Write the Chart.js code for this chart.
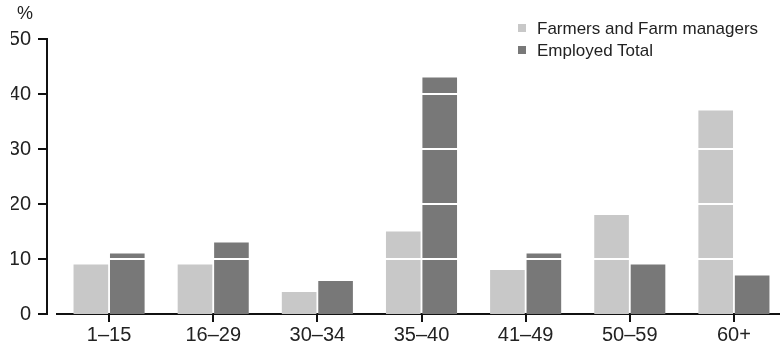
<!DOCTYPE html>
<html>
<head>
<meta charset="utf-8">
<script src="https://cdn.jsdelivr.net/npm/chart.js@4"></script>
<style>
  html, body { margin: 0; padding: 0; background: #fff; overflow: hidden; width: 780px; height: 346px; }
  #wrap { position: absolute; left: 0; top: 0; width: 790px; height: 346px; }
  .unit { position: absolute; left: 17px; top: 3px; font: 18px "Liberation Sans", Arial, sans-serif; color: #222; }
  .legend { position: absolute; left: 518px; top: 18px; font: 17px "Liberation Sans", Arial, sans-serif; color: #222; }
  .legend div { height: 22px; line-height: 22px; white-space: nowrap; }
  .legend span { display: inline-block; width: 8px; height: 8px; margin-right: 11px; vertical-align: 2px; }
</style>
</head>
<body>
<div id="wrap"><canvas id="chart" width="790" height="346"></canvas></div>
<div class="unit">%</div>
<div class="legend">
  <div><span style="background:#c8c8c8"></span>Farmers and Farm managers</div>
  <div><span style="background:#787878"></span>Employed Total</div>
</div>
<script>
const categories = ["1–15", "16–29", "30–34", "35–40", "41–49", "50–59", "60+"];
const farmers = [9, 9, 4, 15, 8, 18, 37];
const employed = [11, 13, 6, 43, 11, 9, 7];
const yTicks = [0, 10, 20, 30, 40, 50];

// white grid lines drawn over the bars, plus the detached y axis line and ticks
const overlay = {
  id: "overlay",
  afterDatasetsDraw(chart) {
    const ctx = chart.ctx;
    const area = chart.chartArea;
    const y = chart.scales.y;
    ctx.save();
    ctx.strokeStyle = "#fff";
    ctx.lineWidth = 2;
    yTicks.forEach(v => {
      if (v === 0 || v === 50) return;
      const py = Math.round(y.getPixelForValue(v));
      ctx.beginPath();
      ctx.moveTo(area.left, py);
      ctx.lineTo(area.right, py);
      ctx.stroke();
    });
    // y axis
    const ax = area.left - 10;
    ctx.strokeStyle = "#111";
    ctx.beginPath();
    ctx.moveTo(ax, y.getPixelForValue(50) - 1);
    ctx.lineTo(ax, y.getPixelForValue(0) + 1);
    ctx.stroke();
    yTicks.forEach(v => {
      const py = Math.round(y.getPixelForValue(v));
      ctx.beginPath();
      ctx.moveTo(ax - 9, py);
      ctx.lineTo(ax, py);
      ctx.stroke();
    });
    ctx.restore();
  }
};

new Chart(document.getElementById("chart"), {
  type: "bar",
  data: {
    labels: categories,
    datasets: [
      { label: "Farmers and Farm managers", data: farmers, backgroundColor: "#c8c8c8" },
      { label: "Employed Total", data: employed, backgroundColor: "#787878" }
    ]
  },
  options: {
    responsive: false,
    animation: false,
    categoryPercentage: 0.7,
    barPercentage: 0.95,
    layout: { padding: { left: 11, right: 4, top: 39, bottom: 0 } },
    plugins: { legend: { display: false }, tooltip: { enabled: false } },
    scales: {
      x: {
        afterFit: s => { s.height = 32; },
        grid: { display: true, offset: false, drawOnChartArea: false, drawTicks: true, tickLength: 8, color: "#111", lineWidth: 2 },
        border: { display: true, color: "#111", width: 2 },
        ticks: { color: "#222", font: { family: "'Liberation Sans', Arial, sans-serif", size: 20 }, padding: 1, maxRotation: 0 }
      },
      y: {
        min: 0,
        max: 50,
        afterFit: s => { s.width = 46; },
        afterBuildTicks: s => { s.ticks = yTicks.map(v => ({ value: v })); },
        grid: { display: false, drawTicks: true, tickLength: 20 },
        border: { display: false },
        ticks: { color: "#222", font: { family: "'Liberation Sans', Arial, sans-serif", size: 20 }, padding: 6 }
      }
    }
  },
  plugins: [overlay]
});
</script>
</body>
</html>
